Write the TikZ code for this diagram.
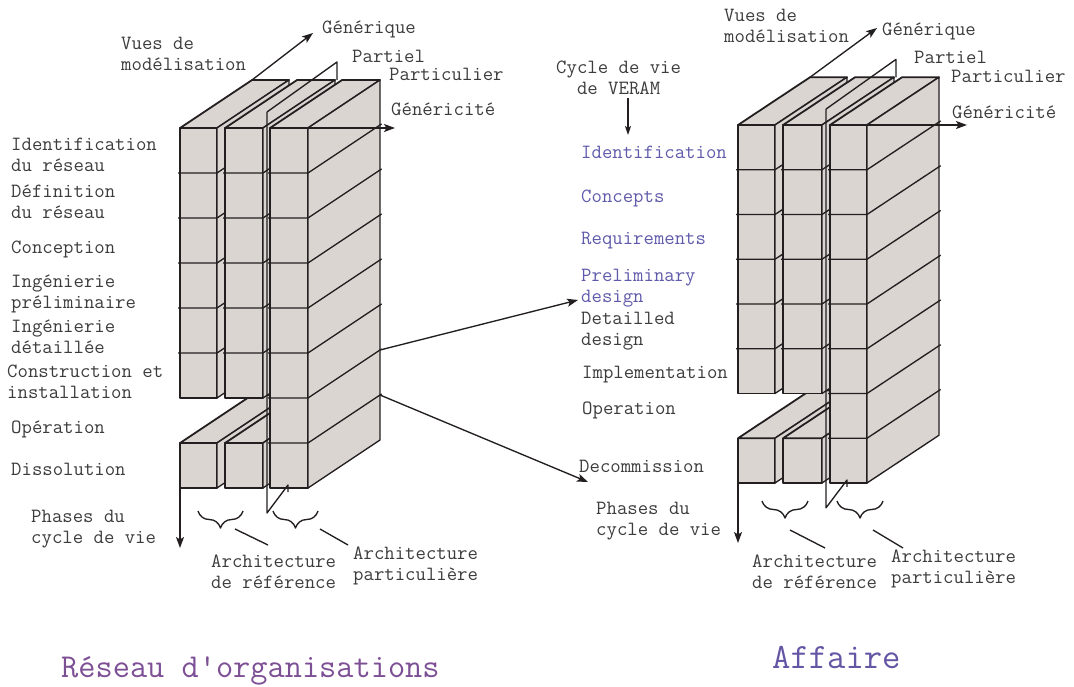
\documentclass[tikz,border=0pt]{standalone}
\usepackage{fontspec}
\usetikzlibrary{arrows.meta,decorations.pathreplacing}
\definecolor{boxfill}{RGB}{219,213,210}
\definecolor{lineclr}{RGB}{35,31,32}
\definecolor{txtgray}{RGB}{60,60,60}
\definecolor{txtblue}{RGB}{95,90,170}
\definecolor{titlepurple}{RGB}{125,80,150}
\definecolor{titleblue}{RGB}{100,85,165}
\newcommand\lblfont{\ttfamily\fontsize{20.2}{21}\selectfont}
\newcommand\ml[1]{\begin{tabular}[t]{@{}l@{}}#1\end{tabular}}
\newcommand\mc[1]{\begin{tabular}[t]{@{}c@{}}#1\end{tabular}}
% one column block: x1, x2, ytop, number of rows
\newcommand\cbox[4]{%
  \pgfmathsetmacro\yb{#3+#4*45}%
  \filldraw[blk] (#1,#3) rectangle (#2,\yb);
  \filldraw[blk,topln] (#1,#3) -- ++(72,-48) -- ++({#2-#1},0) -- (#2,#3) -- cycle;
  \filldraw[blk] (#2,#3) -- ++(72,-48) -- ++(0,{#4*45}) -- (#2,\yb) -- cycle;
  \ifnum#4>1
    \foreach \k in {2,...,#4}{%
      \draw[ln,shorten <=-2pt,shorten >=-2pt] (#1,{#3+(\k-1)*45}) -- (#2,{#3+(\k-1)*45}) -- ++(72,-48);
    }
  \fi
}
% whole structure: prefix, col2 right, col3 left, col3 right, partition x
\newcommand\geram[5]{%
  \cbox{0}{37}{315}{1}
  \cbox{45}{#2}{315}{1}
  \cbox{0}{37}{0}{6}
  \cbox{45}{#2}{0}{6}
  \cbox{#3}{#4}{0}{8}
  \coordinate (#1-bl) at (0,360);
  \coordinate (#1-back) at (72,-48);
  \coordinate (#1-tr) at (#4,0);
  \coordinate (#1-b6) at ({#4+72},222);
  \coordinate (#1-b7) at ({#4+72},267);
  \draw[ln] (#5,-16) -- (#5,385) -- ({#5+21},357) -- ({#5+21},364);
  \draw[ln] (#5,-16) -- ({#5+70},-66) -- ({#5+70},-48);
}
\begin{document}
\begin{tikzpicture}[x=1pt,y=-1pt,
  blk/.style={fill=boxfill,draw=lineclr,line width=1.35pt,line join=round},
  topln/.style={line width=1.8pt},
  ln/.style={draw=lineclr,line width=1.35pt,line join=round},
  arr/.style={ln,-{Stealth[length=11pt,width=8pt,inset=2.5pt]}},
  brc/.style={ln,decorate,decoration={brace,amplitude=17pt,mirror}},
  lbl/.style={anchor=base west,inner sep=0pt,font=\lblfont,text=txtgray},
  bluetxt/.style={text=txtblue}]
\useasboundingbox (0,0) rectangle (1074,686);

% ---------- left structure ----------
\begin{scope}[shift={(180,128)}]
  \geram{L}{83}{90}{128}{87}
\end{scope}
\coordinate (L-gen) at (313,33);
\coordinate (L-gty) at (395,128);
\coordinate (L-ph) at (180,548);
\draw[arr] (L-back) -- (L-gen);
\draw[arr] (L-tr) -- (L-gty);
\draw[arr] (L-bl) -- (L-ph);

% ---------- right structure ----------
\begin{scope}[shift={(738,125)},yscale=0.9944]
  \geram{R}{84}{92}{129}{88}
\end{scope}
\coordinate (R-gen) at (877,28);
\coordinate (R-gty) at (967,125);
\coordinate (R-ph) at (738,543);
\draw[arr] (R-back) -- (R-gen);
\draw[arr] (R-tr) -- (R-gty);
\draw[arr] (R-bl) -- (R-ph);

% ---------- left labels ----------
\node[lbl] (Lv) at (121,49) {\ml{Vues de\\modélisation}};
\node[lbl] (Lgen) at (322,33) {Générique};
\node[lbl] (Lpar) at (352,62) {Partiel};
\node[lbl] (Lpart) at (389,80) {Particulier};
\node[lbl] (Lgty) at (391,115) {Généricité};
\node[lbl] (L1) at (11,150) {\ml{Identification\\du réseau}};
\node[lbl] (L2) at (11,197) {\ml{Définition\\du réseau}};
\node[lbl] (L3) at (11,253) {Conception};
\node[lbl] (L4) at (11,287) {\ml{Ingénierie\\préliminaire}};
\node[lbl] (L5) at (11,332) {\ml{Ingénierie\\détaillée}};
\node[lbl] (L6) at (7,377) {\ml{Construction et\\installation}};
\node[lbl] (L7) at (11,433) {Opération};
\node[lbl] (L8) at (11,475) {Dissolution};
\node[lbl] (Lph) at (31,522) {\ml{Phases du\\cycle de vie}};
\node[lbl] (Lar) at (211,567) {\ml{Architecture\\de référence}};
\node[lbl] (Lap) at (353,559) {\ml{Architecture\\particulière}};
\node[anchor=base west,inner sep=0pt,font=\ttfamily\fontsize{33.4}{36}\selectfont,text=titlepurple] (Ltitle) at (61,677) {Réseau d'organisations};

% braces (left)
\draw[brc] (198,511) -- (243,511);
\draw[brc] (273,511) -- (318,511);
\coordinate (Lb1) at (235,529); \coordinate (Lb1e) at (268,545);
\coordinate (Lb2) at (320,529); \coordinate (Lb2e) at (348,545);
\draw[ln] (Lb1) -- (Lb1e);
\draw[ln] (Lb2) -- (Lb2e);

% ---------- right labels ----------
\node[lbl] (Rv) at (724,21) {\ml{Vues de\\modélisation}};
\node[lbl] (Rgen) at (882,35) {Générique};
\node[lbl] (Rpar) at (914,63) {Partiel};
\node[lbl] (Rpart) at (951,82) {Particulier};
\node[lbl] (Rgty) at (952,118) {Généricité};
\node[lbl] (cyc) at (556,73) {\mc{Cycle de vie\\de VERAM}};
\node[lbl,bluetxt] (R1) at (581,158) {Identification};
\node[lbl,bluetxt] (R2) at (581,202) {Concepts};
\node[lbl,bluetxt] (R3) at (581,244) {Requirements};
\node[lbl,bluetxt] (R4) at (581,281) {\ml{Preliminary\\design}};
\node[lbl] (R5) at (581,324) {\ml{Detailled\\design}};
\node[lbl] (R6) at (582,378) {Implementation};
\node[lbl] (R7) at (582,414) {Operation};
\node[lbl] (R8) at (579,472) {Decommission};
\node[lbl] (Rph) at (596,514) {\ml{Phases du\\cycle de vie}};
\node[lbl] (Rar) at (752,567) {\ml{Architecture\\de référence}};
\node[lbl] (Rap) at (891,562) {\ml{Architecture\\particulière}};
\node[anchor=base west,inner sep=0pt,font=\ttfamily\fontsize{35.6}{40}\selectfont,text=titleblue] (Rtitle) at (772,668) {Affaire};

\coordinate (cyca) at (628,98);
\coordinate (cycb) at (628,135);
\draw[arr,-{Stealth[length=9pt,width=6pt,inset=2pt]}] (cyca) -- (cycb);

% braces (right)
\draw[brc] (762,501) -- (808,501);
\draw[brc] (837,501) -- (883,501);
\coordinate (Rb1) at (790,530); \coordinate (Rb1e) at (825,548);
\coordinate (Rb2) at (873,530); \coordinate (Rb2e) at (903,548);
\draw[ln] (Rb1) -- (Rb1e);
\draw[ln] (Rb2) -- (Rb2e);

% ---------- connectors between the two ----------
\coordinate (t1) at (578,300);
\coordinate (t2) at (588,482);
\draw[arr] (L-b6) -- (t1);
\draw[arr] (L-b7) -- (t2);
\end{tikzpicture}
\end{document}
